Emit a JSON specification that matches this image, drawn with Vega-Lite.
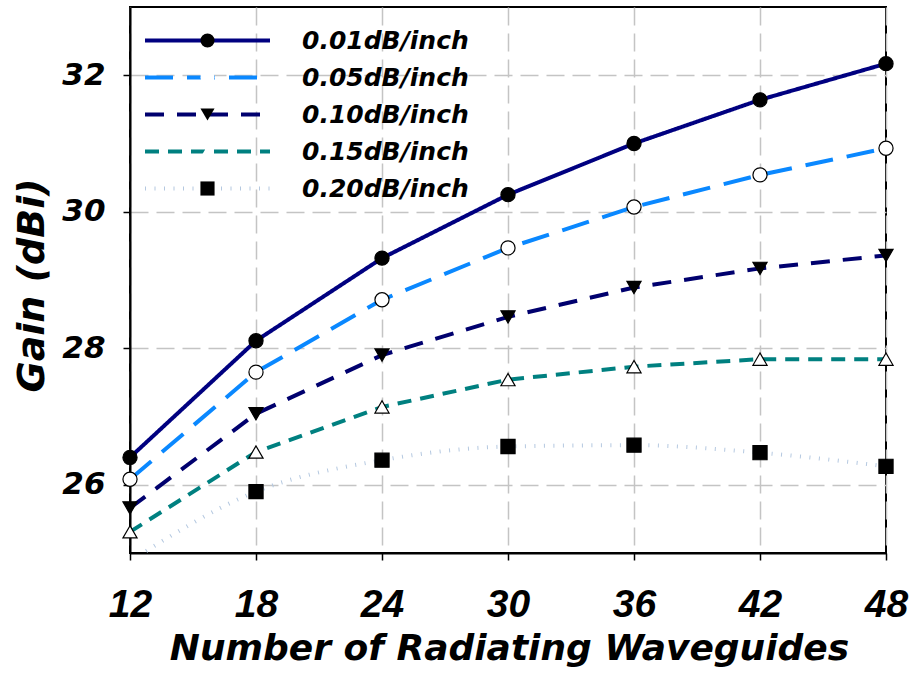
{
  "$schema": "https://vega.github.io/schema/vega-lite/v6.json",
  "width": 756,
  "height": 546,
  "autosize": {"type": "none"},
  "padding": {"left": 130, "top": 7, "right": 27, "bottom": 122},
  "background": "white",
  "config": {
    "view": {"stroke": "black", "strokeWidth": 2},
    "axis": {
      "gridColor": "#c4c4c4", "gridDash": [18, 8], "gridWidth": 1.5,
      "domainColor": "black", "domainWidth": 2,
      "tickColor": "black", "tickWidth": 1.5, "tickSize": 7,
      "labelColor": "black", "titleColor": "black"
    }
  },
  "data": {
    "values": [
      {"n": 12, "gain": 26.40, "series": "0.01dB/inch"},
      {"n": 18, "gain": 28.11, "series": "0.01dB/inch"},
      {"n": 24, "gain": 29.32, "series": "0.01dB/inch"},
      {"n": 30, "gain": 30.25, "series": "0.01dB/inch"},
      {"n": 36, "gain": 31.00, "series": "0.01dB/inch"},
      {"n": 42, "gain": 31.64, "series": "0.01dB/inch"},
      {"n": 48, "gain": 32.17, "series": "0.01dB/inch"},
      {"n": 12, "gain": 26.08, "series": "0.05dB/inch"},
      {"n": 18, "gain": 27.65, "series": "0.05dB/inch"},
      {"n": 24, "gain": 28.71, "series": "0.05dB/inch"},
      {"n": 30, "gain": 29.47, "series": "0.05dB/inch"},
      {"n": 36, "gain": 30.07, "series": "0.05dB/inch"},
      {"n": 42, "gain": 30.54, "series": "0.05dB/inch"},
      {"n": 48, "gain": 30.93, "series": "0.05dB/inch"},
      {"n": 12, "gain": 25.66, "series": "0.10dB/inch"},
      {"n": 18, "gain": 27.04, "series": "0.10dB/inch"},
      {"n": 24, "gain": 27.90, "series": "0.10dB/inch"},
      {"n": 30, "gain": 28.46, "series": "0.10dB/inch"},
      {"n": 36, "gain": 28.89, "series": "0.10dB/inch"},
      {"n": 42, "gain": 29.17, "series": "0.10dB/inch"},
      {"n": 48, "gain": 29.36, "series": "0.10dB/inch"},
      {"n": 12, "gain": 25.31, "series": "0.15dB/inch"},
      {"n": 18, "gain": 26.48, "series": "0.15dB/inch"},
      {"n": 24, "gain": 27.14, "series": "0.15dB/inch"},
      {"n": 30, "gain": 27.54, "series": "0.15dB/inch"},
      {"n": 36, "gain": 27.73, "series": "0.15dB/inch"},
      {"n": 42, "gain": 27.84, "series": "0.15dB/inch"},
      {"n": 48, "gain": 27.84, "series": "0.15dB/inch"},
      {"n": 12, "gain": 24.88, "series": "0.20dB/inch"},
      {"n": 18, "gain": 25.90, "series": "0.20dB/inch"},
      {"n": 24, "gain": 26.36, "series": "0.20dB/inch"},
      {"n": 30, "gain": 26.56, "series": "0.20dB/inch"},
      {"n": 36, "gain": 26.58, "series": "0.20dB/inch"},
      {"n": 42, "gain": 26.47, "series": "0.20dB/inch"},
      {"n": 48, "gain": 26.27, "series": "0.20dB/inch"}
    ]
  },
  "encoding": {
    "x": {
      "field": "n", "type": "quantitative",
      "scale": {"domain": [12, 48], "nice": false, "zero": false},
      "axis": {
        "values": [12, 18, 24, 30, 36, 42, 48],
        "title": "Number of Radiating Waveguides",
        "labelFont": "Liberation Sans Narrow, Liberation Sans",
        "labelFontSize": 39, "labelFontStyle": "italic", "labelFontWeight": "bold",
        "labelPadding": 25, "labelFlush": false,
        "titleFont": "DejaVu Sans", "titleFontSize": 36, "titleFontStyle": "italic", "titleFontWeight": "bold",
        "titleX": 379, "titleY": 106, "titleAlign": "center", "titleBaseline": "alphabetic"
      }
    },
    "y": {
      "field": "gain", "type": "quantitative",
      "scale": {"domain": [25, 33], "nice": false, "zero": false},
      "axis": {
        "values": [26, 28, 30, 32],
        "title": "Gain (dBi)",
        "labelFont": "DejaVu Sans", "labelFontSize": 31, "labelFontStyle": "italic", "labelFontWeight": "bold",
        "labelPadding": 18,
        "titleFont": "DejaVu Sans", "titleFontSize": 38, "titleFontStyle": "italic", "titleFontWeight": "bold",
        "titleX": -98, "titleY": 278, "titleAngle": -90, "titleAlign": "center", "titleBaseline": "middle"
      }
    }
  },
  "layer": [
    {
      "transform": [{"filter": "datum.series !== '0.20dB/inch'"}],
      "mark": {"type": "line", "strokeWidth": 4, "clip": true},
      "encoding": {
        "color": {
          "field": "series", "type": "nominal",
          "scale": {"domain": ["0.01dB/inch", "0.05dB/inch", "0.10dB/inch", "0.15dB/inch", "0.20dB/inch"],
                    "range": ["#000080", "#0a88ff", "#00006e", "#008080", "#b4c8e0"]},
          "legend": {
            "orient": "none", "legendX": 65, "legendY": 21, "title": null, "padding": 0,
            "symbolType": "M-10,0H10", "symbolSize": 156.25, "symbolStrokeWidth": 4,
            "labelOpacity": 0, "labelFont": "DejaVu Sans", "labelFontSize": 25, "labelFontStyle": "italic", "labelFontWeight": "bold",
            "rowPadding": 11, "labelOffset": 82, "labelLimit": 400
          }
        },
        "strokeDash": {
          "field": "series", "type": "nominal",
          "scale": {"domain": ["0.01dB/inch", "0.05dB/inch", "0.10dB/inch", "0.15dB/inch", "0.20dB/inch"],
                    "range": [[1, 0], [28, 14], [19, 13], [14, 9], [1, 8.5]]},
          "legend": {
            "orient": "none", "legendX": 65, "legendY": 21, "title": null, "padding": 0,
            "symbolType": "M-10,0H10", "symbolSize": 156.25, "symbolStrokeWidth": 4,
            "labelOpacity": 0, "labelFont": "DejaVu Sans", "labelFontSize": 25, "labelFontStyle": "italic", "labelFontWeight": "bold",
            "rowPadding": 11, "labelOffset": 82, "labelLimit": 400
          }
        }
      }
    },
    {
      "transform": [{"filter": "datum.series === '0.20dB/inch'"}],
      "mark": {"type": "line", "strokeWidth": 4, "clip": true, "interpolate": "monotone"},
      "encoding": {
        "color": {
          "field": "series", "type": "nominal",
          "scale": {"domain": ["0.01dB/inch", "0.05dB/inch", "0.10dB/inch", "0.15dB/inch", "0.20dB/inch"],
                    "range": ["#000080", "#0a88ff", "#00006e", "#008080", "#b4c8e0"]}
        },
        "strokeDash": {
          "field": "series", "type": "nominal",
          "scale": {"domain": ["0.01dB/inch", "0.05dB/inch", "0.10dB/inch", "0.15dB/inch", "0.20dB/inch"],
                    "range": [[1, 0], [28, 14], [19, 13], [14, 9], [1, 8.5]]}
        }
      }
    },
    {
      "transform": [{"filter": "datum.gain >= 25"}],
      "mark": {"type": "point", "filled": true, "stroke": "black", "strokeWidth": 1.2, "size": 200, "opacity": 1, "clip": false},
      "encoding": {
        "shape": {
          "field": "series", "type": "nominal",
          "scale": {"range": ["circle", "circle", "triangle-down", "triangle-up", "square"]},
          "legend": {
            "orient": "none", "legendX": 65, "legendY": 21, "title": null, "padding": 0,
            "symbolSize": 200, "symbolStrokeColor": "black", "symbolStrokeWidth": 1.2,
            "labelFont": "DejaVu Sans", "labelFontSize": 25, "labelFontStyle": "italic", "labelFontWeight": "bold", "labelColor": "black",
            "rowPadding": 11, "labelOffset": 82, "labelLimit": 400
          }
        },
        "fill": {
          "field": "series", "type": "nominal",
          "scale": {"range": ["black", "white", "black", "white", "black"]},
          "legend": {
            "orient": "none", "legendX": 65, "legendY": 21, "title": null, "padding": 0,
            "symbolSize": 200, "symbolStrokeColor": "black", "symbolStrokeWidth": 1.2,
            "labelFont": "DejaVu Sans", "labelFontSize": 25, "labelFontStyle": "italic", "labelFontWeight": "bold", "labelColor": "black",
            "rowPadding": 11, "labelOffset": 82, "labelLimit": 400
          }
        }
      }
    }
  ]
}
